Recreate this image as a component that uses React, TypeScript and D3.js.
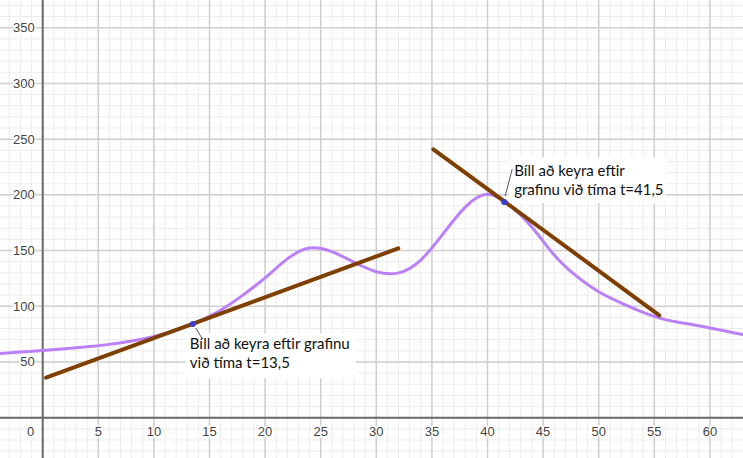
import React from 'react';
import * as d3 from 'd3';

// purple curve (time t, value)
const curveT = [-4, -2, 0, 2, 4, 6, 8, 10, 12, 14, 16, 18, 20, 22, 24, 26, 28, 30, 32, 34, 36, 38, 40, 42, 44, 46, 48, 50, 52, 54, 56, 58, 60, 62, 64];
const curveV = [57.5, 59, 60.3, 61.8, 63.6, 65.8, 68.8, 73, 78.5, 86.5, 96.5, 110, 125.5, 142.5, 152.3, 149, 139.5, 131, 130, 141.5, 165, 189, 200.5, 190.5, 171, 146, 127, 113, 103, 94.5, 88, 84.3, 80.5, 76.5, 72.5];

// tangent segments (start t, start value, end t, end value)
const tangentStartT = [0.3, 35.13];
const tangentStartV = [35.9, 240.9];
const tangentEndT = [31.98, 55.45];
const tangentEndV = [152, 91.9];

// points where the car is
const pointT = [13.5, 41.5];
const pointV = [84, 193.5];

const labelLines = [
  ['Bíll að keyra eftir grafinu', 'við tíma t=13,5'],
  ['Bíll að keyra eftir', 'grafinu við tíma t=41,5'],
];

const xTickLabels = [0, 5, 10, 15, 20, 25, 30, 35, 40, 45, 50, 55, 60];
const yTickLabels = [50, 100, 150, 200, 250, 300, 350];

const W = 743;
const H = 458;

export default function App() {
  const x = d3.scaleLinear().domain([0, 60]).range([42.7, 709.9]);
  const y = d3.scaleLinear().domain([0, 350]).range([417.7, 27.7]);

  const [x0, x1] = [x.invert(0), x.invert(W)];
  const [y0, y1] = [y.invert(H), y.invert(0)];

  const minorX = d3.range(Math.ceil(x0), Math.floor(x1) + 1, 1);
  const minorY = d3.range(Math.ceil(y0 / 10) * 10, y1, 10);
  const majorX = minorX.filter(d => d % 5 === 0);
  const majorY = minorY.filter(d => d % 50 === 0);

  const line = d3.line<number>()
    .x((_, i) => x(curveT[i]))
    .y(d => y(d))
    .curve(d3.curveNatural);

  const font = "'Liberation Sans', Arial, sans-serif";
  const labelFont = "Lato, 'Open Sans', sans-serif";

  // label boxes placed next to each point
  const boxes = [
    { bx: x(pointT[0]) - 7, by: y(pointV[0]) + 9, w: 170, h: 45, tx: x(pointT[0]) - 3, ty: y(pointV[0]) + 25, lx1: x(pointT[0]) + 3, ly1: y(pointV[0]) + 4, lx2: x(pointT[0]) + 9, ly2: y(pointV[0]) + 14 },
    { bx: x(pointT[1]) + 5, by: y(pointV[1]) - 45, w: 157, h: 46, tx: x(pointT[1]) + 10, ty: y(pointV[1]) - 26, lx1: x(pointT[1]) + 1, ly1: y(pointV[1]) - 6, lx2: x(pointT[1]) + 8, ly2: y(pointV[1]) - 33 },
  ];

  return (
    <svg width={W} height={H} style={{ position: 'absolute', left: 0, top: 0, background: '#fff' }}>
      <g>
        {minorX.map(d => <line key={'mx' + d} x1={x(d)} x2={x(d)} y1={0} y2={H} stroke="#ececec" strokeWidth={1} />)}
        {minorY.map(d => <line key={'my' + d} x1={0} x2={W} y1={y(d)} y2={y(d)} stroke="#ececec" strokeWidth={1} />)}
        {majorX.map(d => <line key={'Mx' + d} x1={x(d)} x2={x(d)} y1={0} y2={H} stroke="#cfcfcf" strokeWidth={1.5} />)}
        {majorY.map(d => <line key={'My' + d} x1={0} x2={W} y1={y(d)} y2={y(d)} stroke="#cfcfcf" strokeWidth={1.5} />)}
      </g>
      <line x1={x(0)} x2={x(0)} y1={0} y2={H} stroke="#6a6a6a" strokeWidth={2} />
      <line x1={0} x2={W} y1={y(0)} y2={y(0)} stroke="#6a6a6a" strokeWidth={2} />

      <g fontFamily={font} fontSize={13} fill="#444" style={{ paintOrder: 'stroke' }} stroke="#fff" strokeWidth={3}>
        {xTickLabels.map(d => (
          <text key={'xt' + d} x={d === 0 ? x(0) - 12 : x(d)} y={y(0) + 18} textAnchor="middle">{d}</text>
        ))}
        {yTickLabels.map(d => (
          <text key={'yt' + d} x={x(0) - 8} y={y(d) + 4.5} textAnchor="end">{d}</text>
        ))}
      </g>

      <path d={line(curveV) || ''} fill="none" stroke="#bb80f8" strokeWidth={3} />

      {tangentStartT.map((t, i) => (
        <line key={'tg' + i} x1={x(t)} y1={y(tangentStartV[i])} x2={x(tangentEndT[i])} y2={y(tangentEndV[i])}
          stroke="#7f3f00" strokeWidth={4} strokeLinecap="round" />
      ))}

      {boxes.map((b, i) => (
        <g key={'lb' + i}>
          <rect x={b.bx} y={b.by} width={b.w} height={b.h} fill="#fff" />
          <line x1={b.lx1} y1={b.ly1} x2={b.lx2} y2={b.ly2} stroke="#555" strokeWidth={1} />
          {labelLines[i].map((s, j) => (
            <text key={j} x={b.tx} y={b.ty + j * 19} fontFamily={labelFont} fontSize={15} fill="#111">{s}</text>
          ))}
        </g>
      ))}

      {pointT.map((t, i) => (
        <circle key={'pt' + i} cx={x(t)} cy={y(pointV[i])} r={3} fill="#3d3dd6" />
      ))}
    </svg>
  );
}
